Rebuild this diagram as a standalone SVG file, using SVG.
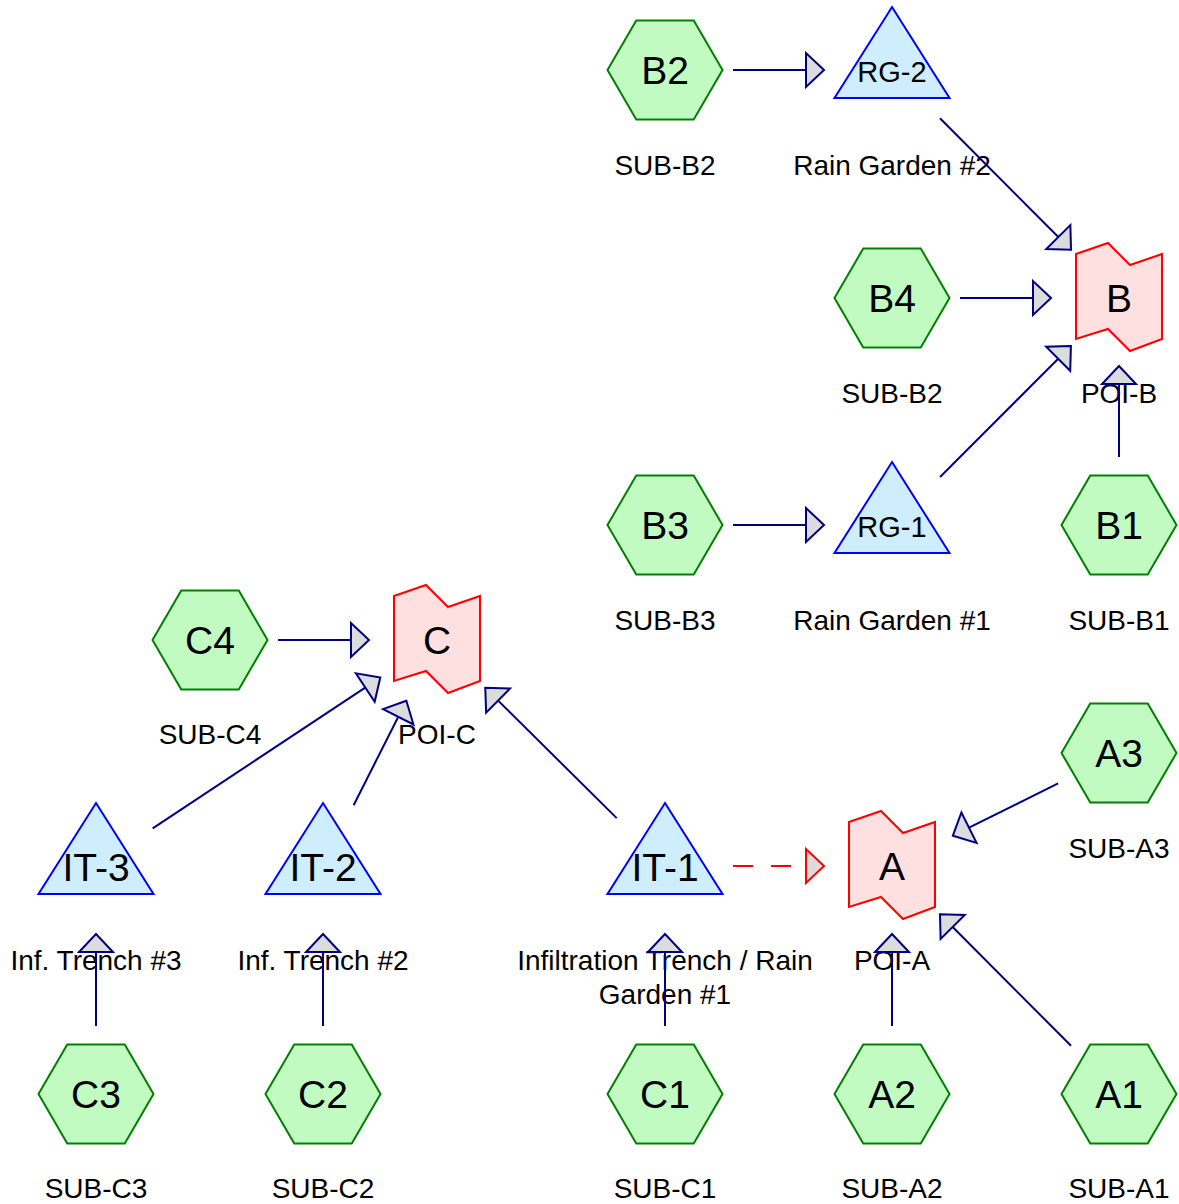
<svg xmlns="http://www.w3.org/2000/svg" width="1179" height="1204" viewBox="0 0 1179 1204">
<style>
.hex{fill:#c2fbc2;stroke:#008000;stroke-width:2}
.tri{fill:#cfeefd;stroke:#0000ff;stroke-width:2}
.poi{fill:#ffe0e0;stroke:#ff0000;stroke-width:2}
.nt{font-family:"Liberation Sans",Arial,sans-serif;font-size:39px;fill:#000;text-anchor:middle}
.rt{font-family:"Liberation Sans",Arial,sans-serif;font-size:29px;fill:#000;text-anchor:middle}
.lb{font-family:"Liberation Sans",Arial,sans-serif;font-size:28px;fill:#000;text-anchor:middle}
.c{stroke:#000080;stroke-width:2;fill:none;marker-end:url(#ah)}
.d{stroke:#ff0000;stroke-width:2;fill:none;stroke-dasharray:20 18;marker-end:url(#ahr)}
</style>
<defs>
<polygon id="hx" points="-57.5,0 -28.75,-49.5 28.75,-49.5 57.5,0 28.75,49.5 -28.75,49.5"/>
<polygon id="tr" points="0,-63 57.5,28 -57.5,28"/>
<polygon id="pf" points="-43,-44 -11,-55 11,-33 43,-44 43,41 11,53 -11,31 -43,41"/>
<marker id="ah" markerUnits="userSpaceOnUse" viewBox="-22 -20 24 40" markerWidth="24" markerHeight="40" refX="0" refY="0" orient="auto" overflow="visible">
<path d="M0,0 L-18,-17 L-18,17 Z" fill="#dcdcdc" stroke="#000080" stroke-width="2"/>
</marker>
<marker id="ahr" markerUnits="userSpaceOnUse" viewBox="-22 -20 24 40" markerWidth="24" markerHeight="40" refX="0" refY="0" orient="auto" overflow="visible">
<path d="M0,0 L-18,-17 L-18,17 Z" fill="#dcdcdc" stroke="#ff0000" stroke-width="2"/>
</marker>
</defs>
<rect width="1179" height="1204" fill="#ffffff"/>

<g id="B2"><use href="#hx" class="hex" x="665" y="70"/><text class="nt" x="665" y="84">B2</text><text class="lb" x="665" y="175">SUB-B2</text></g>
<g id="RG-2"><use href="#tr" class="tri" x="892" y="70"/><text class="rt" x="892" y="82">RG-2</text><text class="lb" x="892" y="175">Rain Garden #2</text></g>
<g id="B4"><use href="#hx" class="hex" x="892" y="298"/><text class="nt" x="892" y="312">B4</text><text class="lb" x="892" y="403">SUB-B2</text></g>
<g id="B"><use href="#pf" class="poi" x="1119" y="298"/><text class="nt" x="1119" y="312">B</text><text class="lb" x="1119" y="403">POI-B</text></g>
<g id="B3"><use href="#hx" class="hex" x="665" y="525"/><text class="nt" x="665" y="539">B3</text><text class="lb" x="665" y="630">SUB-B3</text></g>
<g id="RG-1"><use href="#tr" class="tri" x="892" y="525"/><text class="rt" x="892" y="537">RG-1</text><text class="lb" x="892" y="630">Rain Garden #1</text></g>
<g id="B1"><use href="#hx" class="hex" x="1119" y="525"/><text class="nt" x="1119" y="539">B1</text><text class="lb" x="1119" y="630">SUB-B1</text></g>
<g id="C4"><use href="#hx" class="hex" x="210" y="640"/><text class="nt" x="210" y="654">C4</text><text class="lb" x="210" y="744">SUB-C4</text></g>
<g id="C"><use href="#pf" class="poi" x="437" y="640"/><text class="nt" x="437" y="654">C</text><text class="lb" x="437" y="744">POI-C</text></g>
<g id="A3"><use href="#hx" class="hex" x="1119" y="753"/><text class="nt" x="1119" y="767">A3</text><text class="lb" x="1119" y="858">SUB-A3</text></g>
<g id="IT-3"><use href="#tr" class="tri" x="96" y="866"/><text class="nt" x="96" y="881">IT-3</text><text class="lb" x="96" y="970">Inf. Trench #3</text></g>
<g id="IT-2"><use href="#tr" class="tri" x="323" y="866"/><text class="nt" x="323" y="881">IT-2</text><text class="lb" x="323" y="970">Inf. Trench #2</text></g>
<g id="IT-1"><use href="#tr" class="tri" x="665" y="866"/><text class="nt" x="665" y="881">IT-1</text><text class="lb" x="665" y="970">Infiltration Trench / Rain</text><text class="lb" x="665" y="1004">Garden #1</text></g>
<g id="A"><use href="#pf" class="poi" x="892" y="866"/><text class="nt" x="892" y="880">A</text><text class="lb" x="892" y="970">POI-A</text></g>
<g id="C3"><use href="#hx" class="hex" x="96" y="1094"/><text class="nt" x="96" y="1108">C3</text><text class="lb" x="96" y="1198">SUB-C3</text></g>
<g id="C2"><use href="#hx" class="hex" x="323" y="1094"/><text class="nt" x="323" y="1108">C2</text><text class="lb" x="323" y="1198">SUB-C2</text></g>
<g id="C1"><use href="#hx" class="hex" x="665" y="1094"/><text class="nt" x="665" y="1108">C1</text><text class="lb" x="665" y="1198">SUB-C1</text></g>
<g id="A2"><use href="#hx" class="hex" x="892" y="1094"/><text class="nt" x="892" y="1108">A2</text><text class="lb" x="892" y="1198">SUB-A2</text></g>
<g id="A1"><use href="#hx" class="hex" x="1119" y="1094"/><text class="nt" x="1119" y="1108">A1</text><text class="lb" x="1119" y="1198">SUB-A1</text></g>

<g id="connectors">
<line class="c" x1="733" y1="70" x2="824" y2="70"/>
<line class="c" x1="939.98" y1="118.19" x2="1071.02" y2="249.81"/>
<line class="c" x1="960" y1="298" x2="1051" y2="298"/>
<line class="c" x1="940.08" y1="476.92" x2="1070.92" y2="346.08"/>
<line class="c" x1="1119" y1="457" x2="1119" y2="366"/>
<line class="c" x1="733" y1="525" x2="824" y2="525"/>
<line class="c" x1="278" y1="640" x2="369" y2="640"/>
<line class="c" x1="152.7" y1="828.4" x2="380.3" y2="677.6"/>
<line class="c" x1="353.63" y1="805.28" x2="406.37" y2="700.72"/>
<line class="c" x1="616.71" y1="818.13" x2="485.29" y2="687.87"/>
<line class="d" x1="733" y1="866" x2="824" y2="866"/>
<line class="c" x1="1058.13" y1="783.3" x2="952.87" y2="835.7"/>
<line class="c" x1="892" y1="1026" x2="892" y2="934"/>
<line class="c" x1="1071.02" y1="1045.81" x2="939.98" y2="914.19"/>
<line class="c" x1="96" y1="1026" x2="96" y2="934"/>
<line class="c" x1="323" y1="1026" x2="323" y2="934"/>
<line class="c" x1="665" y1="1026" x2="665" y2="934"/>
</g>
</svg>
